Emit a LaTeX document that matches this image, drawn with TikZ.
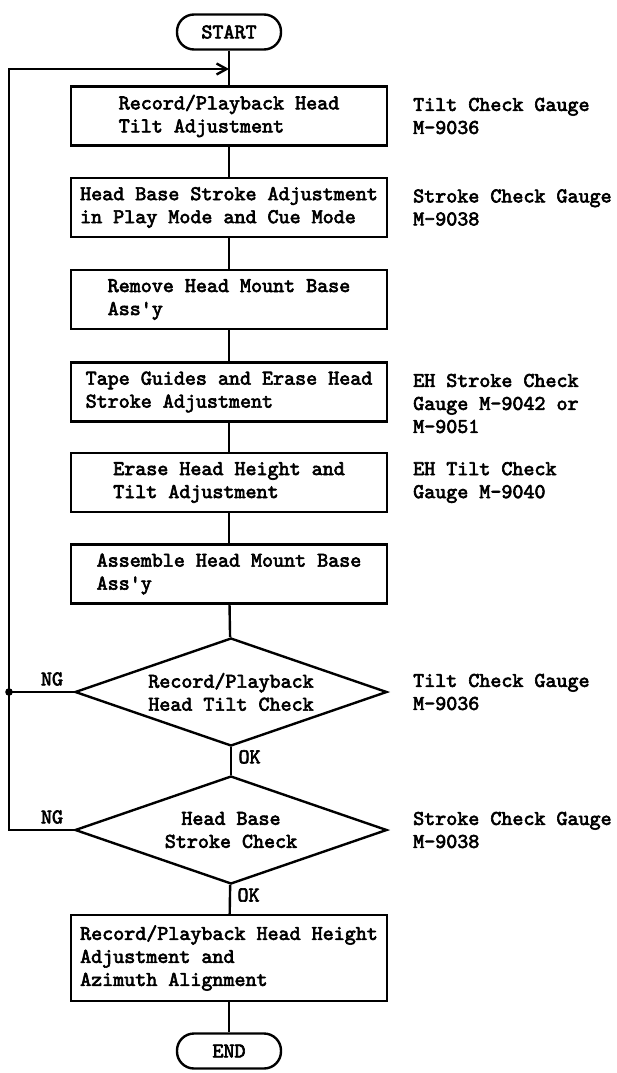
\documentclass[tikz,border=0pt]{standalone}
\usepackage{fontspec}
\newfontfamily\chartfont{lmmono10-regular.otf}[FakeBold=3]
\usetikzlibrary{shapes.geometric,arrows.meta}

\tikzset{
  flow/.style={line width=2.4pt},
  proc/.style={draw, flow, minimum width=316pt, minimum height=59pt,
    align=left, inner sep=0pt},
  check/.style={draw, flow, diamond, aspect=2.9, minimum width=312pt,
    minimum height=108pt, align=center, inner sep=0pt},
  term/.style={draw, flow, rounded corners=17pt, minimum width=104pt,
    minimum height=35pt, inner sep=0pt},
  gauge/.style={anchor=west, align=left, inner sep=0pt},
}

\begin{document}
\begin{tikzpicture}[x=1pt, y=-1pt,
    font=\chartfont\fontsize{21pt}{23pt}\selectfont]
  \useasboundingbox (0,0) rectangle (616,1073);
  \node[term] (start) at (229,32) {START};
  \node[proc] (tiltadj) at (229,116)
  {Record/Playback Head\\Tilt Adjustment};
  \node[proc] (strokeadj) at (229,207.5)
  {Head Base Stroke Adjustment\\in Play Mode and Cue Mode};
  \node[proc] (remove) at (229,299.5)
  {Remove Head Mount Base\\Ass'y};
  \node[proc] (guides) at (229,392)
  {Tape Guides and Erase Head\\Stroke Adjustment};
  \node[proc] (erase) at (229,482.5)
  {Erase Head Height and\\Tilt Adjustment};
  \node[proc] (assemble) at (229,574)
  {Assemble Head Mount Base\\Ass'y};
  \node[check] (tiltchk) at (231,692)
  {Record/Playback\\Head Tilt Check};
  \node[check] (strokechk) at (231,830)
  {Head Base\\Stroke Check};
  \node[proc, minimum height=86pt] (azimuth) at (229,958)
  {Record/Playback Head Height\\Adjustment and\\Azimuth Alignment};
  \node[term] (end) at (229,1051) {END};

  % gauges used at each step
  \node[gauge] (g1) at (413,116) {Tilt Check Gauge\\M-9036};
  \node[gauge] (g2) at (413,207.5) {Stroke Check Gauge\\M-9038};
  \node[gauge] (g3) at (413,403.5) {EH Stroke Check\\Gauge M-9042 or\\M-9051};
  \node[gauge] (g4) at (413,482.5) {EH Tilt Check\\Gauge M-9040};
  \node[gauge] (g5) at (413,692) {Tilt Check Gauge\\M-9036};
  \node[gauge] (g6) at (413,830) {Stroke Check Gauge\\M-9038};

  \draw[flow] (start) -- (tiltadj); \draw[flow] (tiltadj) -- (strokeadj);
  \draw[flow] (strokeadj) -- (remove); \draw[flow] (remove) -- (guides);
  \draw[flow] (guides) -- (erase); \draw[flow] (erase) -- (assemble);
  \draw[flow] (assemble) -- (tiltchk);
  \draw[flow] (tiltchk) -- (strokechk)
  node[pos=0.35, right=3pt] (ok1) {OK};
  \draw[flow] (strokechk) -- (azimuth)
  node[pos=0.35, right=3pt] (ok2) {OK};
  \draw[flow] (azimuth) -- (end);

  % NG loops back to the top
  \coordinate (merge) at (9,692); \coordinate (turn) at (9,69);
  \coordinate (join) at (229,69);
  \draw[flow, -{Straight Barb[length=10pt, width=11pt]}]
    (strokechk.west) -| (turn) -- (join);
  \draw[flow] (tiltchk.west) -- (merge);
  \fill (merge) circle (3.8pt);
  \node (ng1) at (52,679) {NG};
  \node (ng2) at (52,817) {NG};
\end{tikzpicture}
\end{document}
